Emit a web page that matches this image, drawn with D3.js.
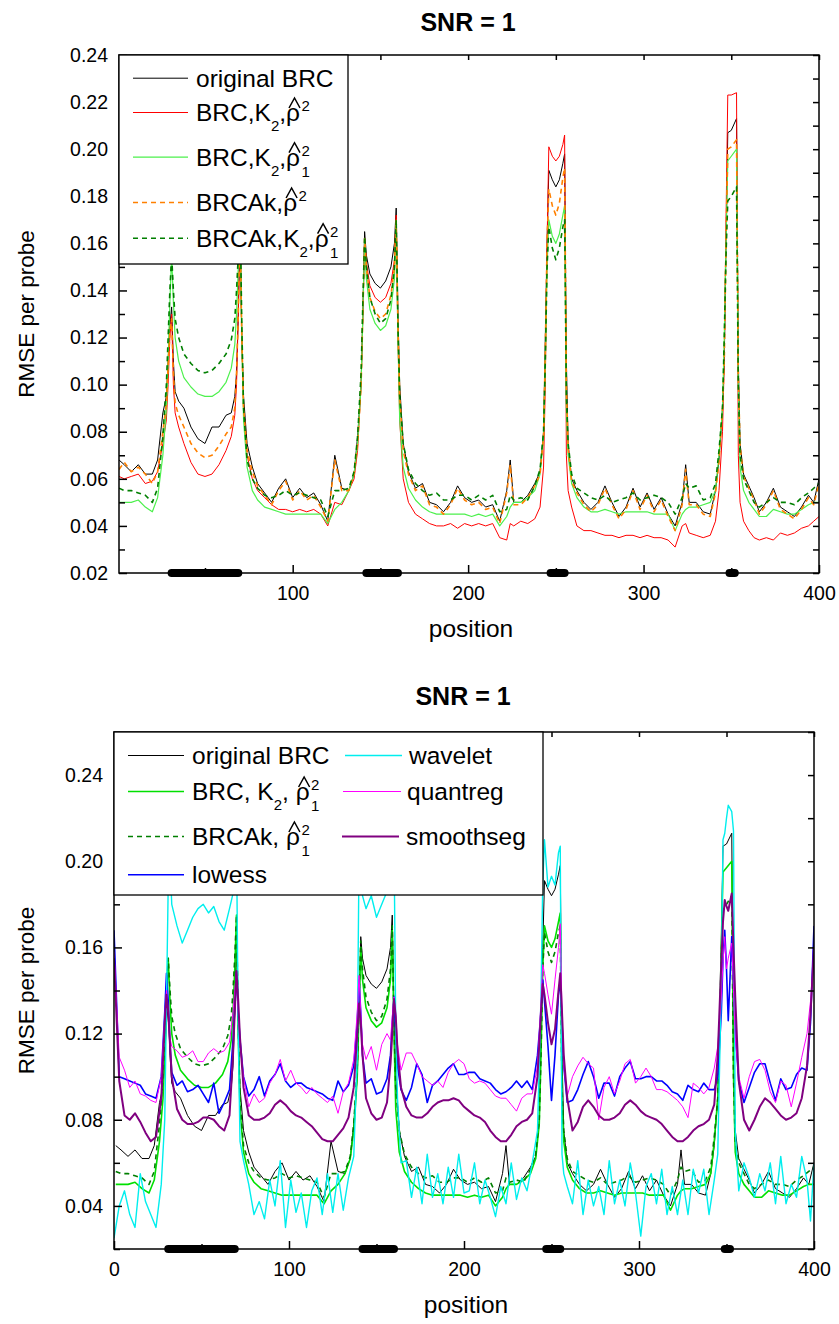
<!DOCTYPE html>
<html>
<head>
<meta charset="utf-8">
<script src="https://cdn.jsdelivr.net/npm/d3@7"></script>
<style>
  body { margin: 0; background: #fff; }
  text { font-family: "Liberation Sans", Arial, Helvetica, sans-serif; white-space: pre; }
</style>
</head>
<body>
<script>
// ---- data ----
// segment bars on the x axis (position ranges)
const segments = [[31, 69], [142, 160], [247, 255], [349, 352]];

// positions shared by the series of the upper panel (and the three BRC series below)
const posA = [
  1,4,8,12,16,20,23,26,28,29,
  30,31,32,33,35,38,42,46,50,54,
  58,62,65,67,68,69,70,71,72,74,
  77,80,84,88,92,96,100,104,108,112,
  116,120,124,128,132,135,137,139,140,141,
  142,144,147,150,153,156,158,159,160,161,
  163,166,170,174,178,182,186,190,194,198,
  202,206,210,214,218,222,224,226,230,234,
  238,241,243,244,245,246,248,250,252,254,
  255,256,257,259,262,266,270,274,278,282,
  286,290,294,298,302,306,310,314,318,322,
  324,326,330,334,338,341,343,345,346,347,
  348,350,353,354,355,357,360,363,366,370,
  374,378,382,386,390,394,397,400
];

const originalBRC = [
  0.068,0.066,0.063,0.066,0.062,0.062,0.068,0.088,0.095,0.11,
  0.125,0.133,0.11,0.097,0.093,0.09,0.082,0.077,0.075,0.082,
  0.082,0.087,0.088,0.095,0.105,0.13,0.165,0.12,0.095,0.075,
  0.065,0.058,0.054,0.05,0.056,0.06,0.052,0.056,0.052,0.054,
  0.049,0.042,0.07,0.056,0.055,0.062,0.078,0.1,0.13,0.165,
  0.155,0.147,0.143,0.141,0.144,0.15,0.16,0.175,0.13,0.1,
  0.075,0.063,0.056,0.058,0.05,0.049,0.046,0.05,0.057,0.052,
  0.05,0.051,0.048,0.049,0.042,0.055,0.068,0.05,0.05,0.053,
  0.058,0.063,0.08,0.12,0.16,0.191,0.187,0.184,0.187,0.194,
  0.198,0.11,0.075,0.06,0.055,0.05,0.047,0.05,0.057,0.05,
  0.044,0.048,0.056,0.048,0.054,0.047,0.052,0.045,0.04,0.05,
  0.066,0.05,0.05,0.046,0.045,0.055,0.068,0.09,0.11,0.16,
  0.207,0.208,0.213,0.11,0.075,0.062,0.057,0.052,0.046,0.05,
  0.056,0.048,0.046,0.044,0.048,0.053,0.05,0.06
];

const brcK2Rho = [
  0.061,0.06,0.061,0.062,0.058,0.059,0.063,0.075,0.085,0.1,
  0.12,0.13,0.1,0.088,0.082,0.075,0.067,0.062,0.061,0.062,
  0.066,0.072,0.078,0.087,0.1,0.13,0.17,0.12,0.09,0.07,
  0.06,0.055,0.052,0.049,0.047,0.047,0.046,0.047,0.046,0.047,
  0.045,0.04,0.05,0.049,0.055,0.06,0.072,0.1,0.13,0.162,
  0.152,0.142,0.137,0.135,0.137,0.143,0.153,0.172,0.12,0.085,
  0.06,0.05,0.045,0.043,0.041,0.04,0.04,0.041,0.039,0.041,
  0.04,0.041,0.04,0.041,0.035,0.034,0.041,0.04,0.042,0.041,
  0.043,0.048,0.065,0.1,0.16,0.201,0.197,0.195,0.197,0.202,
  0.206,0.07,0.055,0.048,0.04,0.038,0.038,0.037,0.036,0.036,
  0.035,0.036,0.036,0.035,0.036,0.035,0.035,0.034,0.031,0.04,
  0.041,0.037,0.036,0.035,0.036,0.042,0.055,0.08,0.11,0.17,
  0.223,0.223,0.224,0.07,0.05,0.042,0.038,0.035,0.034,0.035,
  0.034,0.037,0.036,0.037,0.039,0.04,0.042,0.044
];

const brcK2Rho1 = [
  0.05,0.05,0.05,0.051,0.048,0.046,0.052,0.07,0.09,0.11,
  0.135,0.155,0.135,0.12,0.11,0.103,0.099,0.096,0.095,0.095,
  0.097,0.101,0.107,0.117,0.13,0.15,0.175,0.12,0.085,0.065,
  0.055,0.051,0.048,0.047,0.046,0.045,0.045,0.045,0.045,0.045,
  0.045,0.041,0.047,0.05,0.055,0.062,0.075,0.1,0.13,0.16,
  0.145,0.132,0.126,0.123,0.125,0.132,0.145,0.168,0.12,0.085,
  0.065,0.056,0.051,0.048,0.046,0.045,0.045,0.045,0.045,0.045,
  0.044,0.045,0.044,0.045,0.04,0.044,0.048,0.05,0.05,0.052,
  0.055,0.062,0.078,0.11,0.15,0.17,0.163,0.16,0.164,0.172,
  0.176,0.09,0.07,0.058,0.052,0.048,0.046,0.046,0.047,0.046,
  0.045,0.046,0.046,0.046,0.046,0.045,0.045,0.045,0.038,0.045,
  0.047,0.048,0.048,0.049,0.05,0.055,0.07,0.09,0.12,0.16,
  0.195,0.197,0.2,0.1,0.065,0.055,0.05,0.047,0.044,0.044,
  0.047,0.046,0.045,0.045,0.047,0.049,0.05,0.05
];

const brcakRho = [
  0.064,0.067,0.063,0.065,0.062,0.058,0.063,0.08,0.092,0.108,
  0.122,0.128,0.105,0.092,0.087,0.082,0.075,0.071,0.069,0.07,
  0.074,0.079,0.082,0.09,0.105,0.13,0.165,0.12,0.09,0.072,
  0.063,0.057,0.053,0.049,0.055,0.059,0.051,0.055,0.051,0.053,
  0.048,0.042,0.068,0.055,0.055,0.062,0.075,0.1,0.13,0.162,
  0.15,0.137,0.131,0.128,0.13,0.138,0.15,0.17,0.125,0.095,
  0.072,0.062,0.055,0.057,0.049,0.048,0.045,0.049,0.056,0.051,
  0.049,0.05,0.047,0.048,0.041,0.054,0.066,0.049,0.049,0.052,
  0.057,0.062,0.078,0.115,0.16,0.183,0.176,0.172,0.177,0.188,
  0.192,0.1,0.073,0.059,0.054,0.049,0.046,0.049,0.056,0.049,
  0.043,0.047,0.055,0.047,0.053,0.046,0.051,0.044,0.038,0.049,
  0.064,0.049,0.049,0.045,0.044,0.054,0.067,0.09,0.11,0.16,
  0.2,0.201,0.204,0.105,0.074,0.061,0.056,0.051,0.045,0.049,
  0.055,0.047,0.045,0.043,0.047,0.052,0.049,0.058
];

const brcakK2Rho1 = [
  0.056,0.055,0.055,0.054,0.053,0.05,0.056,0.078,0.1,0.12,
  0.14,0.155,0.14,0.128,0.12,0.113,0.109,0.106,0.105,0.106,
  0.109,0.113,0.119,0.128,0.14,0.155,0.175,0.125,0.09,0.068,
  0.06,0.056,0.053,0.052,0.053,0.055,0.053,0.054,0.053,0.052,
  0.051,0.044,0.055,0.055,0.056,0.063,0.078,0.105,0.135,0.163,
  0.15,0.137,0.13,0.126,0.128,0.136,0.15,0.17,0.125,0.095,
  0.075,0.064,0.058,0.055,0.053,0.054,0.051,0.051,0.053,0.053,
  0.051,0.053,0.051,0.053,0.046,0.047,0.053,0.051,0.052,0.051,
  0.057,0.064,0.08,0.11,0.15,0.167,0.158,0.153,0.158,0.167,
  0.17,0.095,0.075,0.062,0.056,0.054,0.052,0.051,0.053,0.05,
  0.051,0.052,0.054,0.051,0.052,0.053,0.052,0.05,0.045,0.052,
  0.058,0.056,0.057,0.051,0.052,0.058,0.072,0.09,0.12,0.155,
  0.178,0.18,0.184,0.1,0.07,0.06,0.055,0.05,0.048,0.05,
  0.052,0.05,0.05,0.049,0.052,0.054,0.056,0.058
];

// positions for the other methods of the lower panel
const posB = [
  0,3,6,9,12,15,18,21,24,27,
  29,30,31,32,33,36,39,42,45,48,
  51,54,57,60,63,66,68,69,70,71,
  72,74,77,80,83,86,89,92,95,98,
  101,104,107,110,113,116,119,122,125,128,
  131,134,137,139,140,141,142,144,147,150,
  153,156,158,159,160,161,162,164,167,170,
  173,176,179,182,185,188,191,194,197,200,
  203,206,209,212,215,218,221,224,227,230,
  233,236,239,242,244,245,246,248,250,252,
  254,255,256,257,259,262,265,268,271,274,
  277,280,283,286,289,292,295,298,301,304,
  307,310,313,316,319,322,325,328,331,334,
  337,340,343,345,347,348,349,350,351,353,
  354,355,357,360,363,366,369,372,375,378,
  381,384,387,390,393,396,398,400
];

const lowess = [
  0.168,0.1,0.099,0.098,0.097,0.096,0.092,0.091,0.09,0.1,
  0.13,0.148,0.135,0.115,0.102,0.096,0.098,0.093,0.094,0.096,
  0.092,0.088,0.097,0.083,0.088,0.094,0.117,0.132,0.148,0.13,
  0.117,0.1,0.091,0.094,0.1,0.091,0.098,0.101,0.106,0.098,
  0.095,0.097,0.097,0.095,0.094,0.093,0.092,0.09,0.089,0.098,
  0.093,0.096,0.105,0.125,0.145,0.13,0.11,0.097,0.099,0.092,
  0.093,0.099,0.11,0.125,0.137,0.12,0.105,0.094,0.089,0.095,
  0.106,0.101,0.088,0.096,0.098,0.101,0.104,0.106,0.101,0.101,
  0.102,0.102,0.099,0.098,0.097,0.094,0.092,0.093,0.095,0.098,
  0.095,0.098,0.094,0.11,0.13,0.145,0.135,0.114,0.089,0.11,
  0.138,0.145,0.125,0.105,0.088,0.089,0.094,0.101,0.107,0.1,
  0.09,0.097,0.097,0.091,0.1,0.104,0.107,0.099,0.099,0.1,
  0.1,0.098,0.098,0.096,0.093,0.092,0.089,0.096,0.094,0.093,
  0.097,0.094,0.094,0.1,0.129,0.155,0.168,0.15,0.126,0.165,
  0.145,0.121,0.098,0.088,0.095,0.102,0.106,0.106,0.097,0.089,
  0.099,0.094,0.095,0.101,0.104,0.103,0.125,0.17
];

const wavelet = [
  0.025,0.04,0.047,0.036,0.03,0.055,0.042,0.036,0.03,0.05,
  0.08,0.135,0.19,0.2,0.18,0.17,0.162,0.168,0.174,0.178,
  0.18,0.176,0.179,0.172,0.168,0.178,0.185,0.2,0.21,0.12,
  0.07,0.061,0.05,0.036,0.042,0.034,0.052,0.04,0.061,0.03,
  0.052,0.037,0.046,0.03,0.047,0.053,0.036,0.055,0.037,0.055,
  0.038,0.053,0.063,0.11,0.2,0.205,0.184,0.178,0.184,0.174,
  0.18,0.186,0.19,0.2,0.21,0.122,0.09,0.06,0.061,0.044,
  0.058,0.041,0.064,0.044,0.055,0.041,0.058,0.044,0.064,0.046,
  0.047,0.06,0.041,0.052,0.044,0.035,0.049,0.041,0.06,0.043,
  0.053,0.047,0.06,0.075,0.137,0.19,0.21,0.188,0.193,0.189,
  0.204,0.207,0.064,0.055,0.049,0.041,0.061,0.036,0.052,0.04,
  0.049,0.036,0.061,0.041,0.052,0.04,0.06,0.046,0.026,0.049,
  0.055,0.041,0.057,0.036,0.049,0.036,0.052,0.036,0.057,0.046,
  0.057,0.036,0.052,0.064,0.142,0.21,0.213,0.22,0.226,0.223,
  0.214,0.075,0.047,0.06,0.053,0.044,0.055,0.047,0.06,0.041,
  0.063,0.041,0.05,0.044,0.063,0.052,0.033,0.06
];

const quantreg = [
  0.158,0.109,0.103,0.095,0.098,0.092,0.091,0.089,0.088,0.1,
  0.128,0.14,0.13,0.118,0.114,0.112,0.109,0.11,0.112,0.107,
  0.107,0.111,0.113,0.111,0.112,0.116,0.13,0.14,0.149,0.13,
  0.115,0.1,0.086,0.092,0.088,0.09,0.097,0.101,0.108,0.098,
  0.103,0.097,0.095,0.092,0.095,0.092,0.09,0.088,0.091,0.083,
  0.093,0.097,0.108,0.13,0.147,0.13,0.115,0.108,0.114,0.103,
  0.115,0.12,0.117,0.128,0.137,0.129,0.115,0.103,0.111,0.111,
  0.106,0.1,0.098,0.096,0.098,0.095,0.102,0.106,0.108,0.106,
  0.099,0.097,0.098,0.097,0.094,0.091,0.09,0.09,0.087,0.084,
  0.09,0.092,0.092,0.105,0.135,0.152,0.148,0.138,0.129,0.145,
  0.16,0.171,0.13,0.105,0.091,0.1,0.105,0.109,0.106,0.104,
  0.08,0.095,0.1,0.092,0.098,0.106,0.108,0.097,0.1,0.104,
  0.1,0.094,0.094,0.093,0.091,0.089,0.086,0.081,0.097,0.095,
  0.092,0.095,0.104,0.114,0.137,0.153,0.165,0.15,0.155,0.162,
  0.14,0.118,0.1,0.09,0.1,0.107,0.108,0.103,0.093,0.088,
  0.098,0.096,0.086,0.097,0.109,0.12,0.135,0.155
];

const smoothseg = [
  0.155,0.098,0.082,0.08,0.083,0.079,0.074,0.07,0.072,0.09,
  0.125,0.138,0.13,0.115,0.1,0.085,0.08,0.078,0.078,0.079,
  0.081,0.081,0.08,0.077,0.075,0.082,0.11,0.13,0.149,0.135,
  0.118,0.095,0.082,0.08,0.08,0.081,0.083,0.087,0.089,0.087,
  0.084,0.082,0.081,0.079,0.077,0.074,0.071,0.07,0.07,0.073,
  0.076,0.081,0.095,0.12,0.134,0.125,0.11,0.09,0.083,0.08,
  0.081,0.088,0.106,0.12,0.136,0.128,0.112,0.095,0.086,0.082,
  0.081,0.081,0.083,0.086,0.088,0.089,0.089,0.09,0.089,0.086,
  0.084,0.082,0.081,0.079,0.075,0.072,0.07,0.07,0.073,0.077,
  0.079,0.08,0.083,0.1,0.13,0.143,0.138,0.125,0.115,0.122,
  0.14,0.148,0.13,0.11,0.09,0.075,0.079,0.086,0.089,0.086,
  0.082,0.08,0.08,0.081,0.083,0.087,0.089,0.087,0.084,0.082,
  0.081,0.08,0.078,0.075,0.072,0.07,0.07,0.072,0.075,0.077,
  0.078,0.08,0.087,0.11,0.152,0.172,0.182,0.179,0.177,0.185,
  0.16,0.137,0.098,0.08,0.075,0.08,0.086,0.09,0.088,0.085,
  0.082,0.08,0.081,0.083,0.09,0.105,0.129,0.16
];

// tick values
const topXTicks = [100, 200, 300, 400];
const topYTicks = [0.02, 0.04, 0.06, 0.08, 0.10, 0.12, 0.14, 0.16, 0.18, 0.20, 0.22, 0.24];
const topYMinor = [0.03, 0.05, 0.07, 0.09, 0.11, 0.13, 0.15, 0.17, 0.19, 0.21, 0.23];
const botXTicks = [0, 100, 200, 300, 400];
const botYTicks = [0.04, 0.08, 0.12, 0.16, 0.20, 0.24];
const botYMinor = [0.02, 0.06, 0.10, 0.14, 0.18, 0.22, 0.26];
const xMinor = [50, 150, 250, 350];

// ---- drawing ----
const W = 839, H = 1324;
const FS = 24.5, TICKFS = 19.5, SMALL = 15;
const svg = d3.select("body").append("svg").attr("width", W).attr("height", H);

// one text element per legend entry; K subscript and rho with exponents as tspans,
// the hat over rho is a small stroked chevron
function richLabel(g, x, y, parts) {
  const t = g.append("text").attr("x", x).attr("y", y).attr("font-size", FS);
  let cx = x;
  function span(str, sx, sy, size) {
    const s = t.append("tspan").attr("x", sx).attr("y", sy).text(str);
    if (size) s.attr("font-size", size);
    return s;
  }
  parts.forEach(function (p) {
    if (p.n !== undefined) {
      cx += span(p.n, cx, y).node().getComputedTextLength();
    } else if (p.sub !== undefined) {
      cx += span(p.sub, cx, y + 10, SMALL).node().getComputedTextLength();
    } else if (p.rho) {
      const w = span("ρ", cx, y).node().getComputedTextLength();
      const hx = cx + w / 2 + 1.5;
      g.append("path")
        .attr("d", `M${hx - 5.5},${y - 13} L${hx},${y - 23} L${hx + 5.5},${y - 13}`)
        .attr("fill", "none").attr("stroke", "#000").attr("stroke-width", 1.5);
      const sw = span("2", cx + w + 1.5, y - 10, SMALL).node().getComputedTextLength();
      if (p.rho === "sub1") span("1", cx + w + 1.5, y + 11, SMALL);
      cx += w + sw + 1.5;
    }
  });
}

function drawPanel(cfg) {
  const x = d3.scaleLinear().domain(cfg.xDomain).range([cfg.left, cfg.right]);
  const y = d3.scaleLinear().domain(cfg.yDomain).range([cfg.bottom, cfg.top]);
  const g = svg.append("g");

  g.append("text")
    .attr("x", (cfg.left + cfg.right) / 2 - 1)
    .attr("y", cfg.titleY)
    .attr("text-anchor", "middle")
    .attr("font-size", 25)
    .attr("font-weight", "bold")
    .text("SNR = 1");

  const clipId = "clip" + cfg.id;
  svg.append("clipPath").attr("id", clipId).append("rect")
    .attr("x", cfg.left).attr("y", cfg.top)
    .attr("width", cfg.right - cfg.left).attr("height", cfg.bottom - cfg.top);

  const lines = g.append("g").attr("clip-path", "url(#" + clipId + ")");
  cfg.series.forEach(function (s) {
    const line = d3.line()
      .x((d, i) => x(s.pos[i]))
      .y((d) => y(d));
    lines.append("path")
      .datum(s.values)
      .attr("fill", "none")
      .attr("stroke", s.color)
      .attr("stroke-width", s.width)
      .attr("stroke-dasharray", s.dash || null)
      .attr("stroke-linejoin", "round")
      .attr("d", line);
  });

  // axes with inward ticks on all four sides
  function styleAxis(sel) {
    sel.select(".domain").remove();
    sel.selectAll("line").attr("stroke", "#000").attr("stroke-width", 1.5);
    sel.selectAll("text").attr("font-size", TICKFS).attr("fill", "#000")
      .style("font-family", "'Liberation Sans', Arial, sans-serif");
  }
  const fmt = d3.format(".2f");
  g.append("g").attr("transform", `translate(0,${cfg.bottom})`)
    .call(d3.axisBottom(x).tickValues(cfg.xTicks).tickSize(-8).tickPadding(13).tickFormat(d3.format("d")))
    .call(styleAxis);
  g.append("g").attr("transform", `translate(0,${cfg.bottom})`)
    .call(d3.axisBottom(x).tickValues(xMinor).tickSize(-5).tickFormat(""))
    .call(styleAxis);
  g.append("g").attr("transform", `translate(0,${cfg.top})`)
    .call(d3.axisTop(x).tickValues(cfg.xTicks.concat(xMinor)).tickSize(-5).tickFormat(""))
    .call(styleAxis);
  g.append("g").attr("transform", `translate(${cfg.left},0)`)
    .call(d3.axisLeft(y).tickValues(cfg.yTicks).tickSize(-8).tickPadding(11).tickFormat(fmt))
    .call(styleAxis);
  g.append("g").attr("transform", `translate(${cfg.left},0)`)
    .call(d3.axisLeft(y).tickValues(cfg.yMinor).tickSize(-6).tickFormat(""))
    .call(styleAxis);
  g.append("g").attr("transform", `translate(${cfg.right},0)`)
    .call(d3.axisRight(y).tickValues(cfg.yTicks.concat(cfg.yMinor)).tickSize(-6).tickFormat(""))
    .call(styleAxis);

  g.append("rect")
    .attr("x", cfg.left).attr("y", cfg.top)
    .attr("width", cfg.right - cfg.left).attr("height", cfg.bottom - cfg.top)
    .attr("fill", "none").attr("stroke", "#000").attr("stroke-width", 1.5);

  g.selectAll(".seg").data(segments).enter().append("line")
    .attr("x1", (d) => x(d[0])).attr("x2", (d) => x(d[1]))
    .attr("y1", cfg.bottom).attr("y2", cfg.bottom)
    .attr("stroke", "#000").attr("stroke-width", 8).attr("stroke-linecap", "round");

  g.append("text")
    .attr("x", (cfg.left + cfg.right) / 2 + 2)
    .attr("y", cfg.bottom + 64)
    .attr("text-anchor", "middle")
    .attr("font-size", FS)
    .text("position");

  g.append("text")
    .attr("transform", `translate(34,${(cfg.top + cfg.bottom) / 2}) rotate(-90)`)
    .attr("text-anchor", "middle")
    .attr("font-size", 22.5)
    .text("RMSE per probe");

  // legend
  const lg = g.append("g");
  lg.append("rect")
    .attr("x", cfg.left).attr("y", cfg.top)
    .attr("width", cfg.legend.w).attr("height", cfg.legend.h)
    .attr("fill", "#fff").attr("stroke", "#000").attr("stroke-width", 1.3);
  cfg.series.forEach(function (s) {
    const L = s.leg;
    lg.append("line")
      .attr("x1", L.x1).attr("x2", L.x2)
      .attr("y1", L.y - 8.5).attr("y2", L.y - 8.5)
      .attr("stroke", s.color)
      .attr("stroke-width", s.width)
      .attr("stroke-dasharray", s.dash || null);
    richLabel(lg, L.tx, L.y, s.label);
  });
}

// upper panel
drawPanel({
  id: "a",
  left: 119, right: 819, top: 55, bottom: 573,
  xDomain: [1, 400], yDomain: [0.02, 0.24],
  xTicks: topXTicks, yTicks: topYTicks, yMinor: topYMinor,
  titleY: 31,
  legend: { w: 229, h: 209 },
  series: [
    { pos: posA, values: originalBRC, color: "#000", width: 1,
      label: [{ n: "original BRC" }], leg: { x1: 133, x2: 188, tx: 196, y: 86.7 } },
    { pos: posA, values: brcK2Rho, color: "#ff0000", width: 1,
      label: [{ n: "BRC,K" }, { sub: "2" }, { n: "," }, { rho: "sup" }], leg: { x1: 133, x2: 188, tx: 196, y: 121 } },
    { pos: posA, values: brcK2Rho1, color: "#4cf04c", width: 1.2,
      label: [{ n: "BRC,K" }, { sub: "2" }, { n: "," }, { rho: "sub1" }], leg: { x1: 133, x2: 188, tx: 196, y: 165.7 } },
    { pos: posA, values: brcakRho, color: "#ff8000", width: 1.6, dash: "5,4",
      label: [{ n: "BRCAk," }, { rho: "sup" }], leg: { x1: 133, x2: 188, tx: 196, y: 211 } },
    { pos: posA, values: brcakK2Rho1, color: "#007f00", width: 1.6, dash: "5,4",
      label: [{ n: "BRCAk,K" }, { sub: "2" }, { n: "," }, { rho: "sub1" }], leg: { x1: 133, x2: 188, tx: 196, y: 246.7 } }
  ]
});

// lower panel
drawPanel({
  id: "b",
  left: 114, right: 814, top: 732, bottom: 1249,
  xDomain: [0, 400], yDomain: [0.02, 0.26],
  xTicks: botXTicks, yTicks: botYTicks, yMinor: botYMinor,
  titleY: 705,
  legend: { w: 429, h: 163 },
  series: [
    { pos: posA, values: originalBRC, color: "#000", width: 1,
      label: [{ n: "original BRC" }], leg: { x1: 128, x2: 184, tx: 192, y: 764 } },
    { pos: posA, values: brcK2Rho1, color: "#00e000", width: 1.6,
      label: [{ n: "BRC, K" }, { sub: "2" }, { n: ", " }, { rho: "sub1" }], leg: { x1: 128, x2: 184, tx: 192, y: 800 } },
    { pos: posA, values: brcakK2Rho1, color: "#007f00", width: 1.6, dash: "5,4",
      label: [{ n: "BRCAk, " }, { rho: "sub1" }], leg: { x1: 128, x2: 184, tx: 192, y: 845 } },
    { pos: posB, values: lowess, color: "#0000ff", width: 1.6,
      label: [{ n: "lowess" }], leg: { x1: 128, x2: 184, tx: 192, y: 883.3 } },
    { pos: posB, values: wavelet, color: "#00eeee", width: 1.4,
      label: [{ n: "wavelet" }], leg: { x1: 345, x2: 402, tx: 409, y: 764 } },
    { pos: posB, values: quantreg, color: "#ff00ff", width: 1,
      label: [{ n: "quantreg" }], leg: { x1: 343, x2: 401, tx: 407, y: 800 } },
    { pos: posB, values: smoothseg, color: "#800080", width: 2,
      label: [{ n: "smoothseg" }], leg: { x1: 342, x2: 399, tx: 406, y: 845 } }
  ]
});
</script>
</body>
</html>
